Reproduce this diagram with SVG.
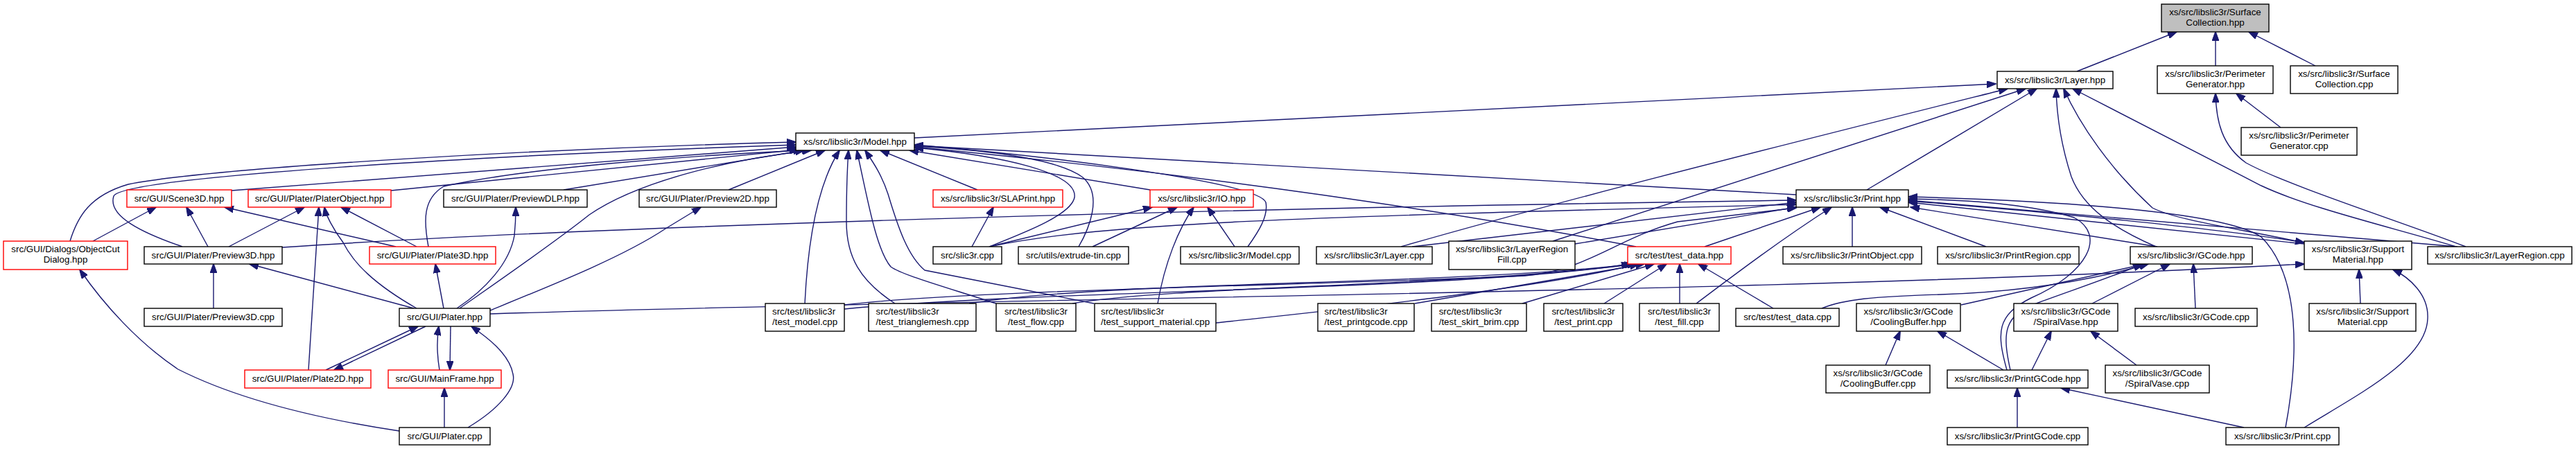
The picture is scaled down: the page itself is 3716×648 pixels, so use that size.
<svg xmlns="http://www.w3.org/2000/svg" width="3716" height="648" viewBox="0 0 3716 648">
<style>
.n rect{fill:#fff;stroke:#000;stroke-width:1.4}
.r rect{stroke:#f00}
.g rect{fill:#bfbfbf}
text{font-family:"Liberation Sans",Arial,sans-serif;font-size:13.33px;fill:#000;text-anchor:middle}
text.s{text-anchor:start}
#edges path{fill:none;stroke:#191970;stroke-width:1.4;marker-end:url(#ah)}
</style>
<defs>
<marker id="ah" markerUnits="userSpaceOnUse" markerWidth="14" markerHeight="10" refX="13" refY="5" orient="auto">
<path d="M0,0 L14,5 L0,10 z" fill="#191970" stroke="#191970" stroke-width="1"/>
</marker>
</defs>
<rect width="3716" height="648" fill="#fff"/>
<g id="edges">
<path d="M2996,103 L3140,46"/>
<path d="M3196,95 L3196,46"/>
<path d="M3340,95 L3244,46"/>
<path d="M3290,184 L3226,135"/>
<path d="M3557,356 C3470,322 3300,268 3240,235 C3205,210 3197,175 3196,135"/>
<path d="M3543,356 C3450,328 3330,300 3262,268 L2990,128"/>
<path d="M1319,199 L2879,121"/>
<path d="M2693,274 L2938,128"/>
<path d="M2021,356 C2250,290 2550,215 2896,128"/>
<path d="M2240,348 L2922,128"/>
<path d="M3110,356 C3050,330 3005,300 2988,255 C2975,215 2967,170 2966,128"/>
<path d="M3322,350 C3230,330 3140,318 3105,300 C3045,245 3000,180 2977,128"/>
<path d="M101,348 C112,312 130,282 185,266 C320,240 800,214 1148,205"/>
<path d="M263,356 C205,336 155,312 164,283 C178,255 700,224 1148,209"/>
<path d="M334,275 L1148,212"/>
<path d="M564,275 L1152,216"/>
<path d="M618,356 C611,318 610,287 640,269 C760,242 1000,224 1158,217"/>
<path d="M813,274 L1160,217"/>
<path d="M663,445 C720,405 800,350 850,310 C920,262 1050,230 1170,217"/>
<path d="M1051,274 L1190,217"/>
<path d="M1161,438 C1166,335 1182,262 1211,217"/>
<path d="M1291,438 C1240,405 1221,370 1221,320 C1221,280 1222,245 1224,217"/>
<path d="M1437,438 C1350,410 1300,396 1285,385 C1264,360 1252,290 1236,217"/>
<path d="M1578,438 L1334,390 C1310,370 1296,330 1281,280 C1271,250 1258,232 1248,217"/>
<path d="M1410,274 L1270,217"/>
<path d="M1659,274 L1312,217"/>
<path d="M1427,356 C1480,335 1545,310 1550,285 C1555,250 1450,225 1319,213"/>
<path d="M1556,356 C1570,332 1592,282 1562,256 C1522,226 1400,215 1319,211"/>
<path d="M2591,281 L1319,210"/>
<path d="M1800,356 C1815,335 1830,312 1826,292 C1815,262 1500,224 1319,209"/>
<path d="M2360,356 Q1900,268 1319,212"/>
<path d="M407,357 C800,330 1600,303 2591,289"/>
<path d="M1427,356 C1600,320 1900,313 2591,295"/>
<path d="M1218,440 C1400,418 1900,412 2200,398 C2290,390 2330,345 2420,320 L2591,300"/>
<path d="M2272,352 L2591,299"/>
<path d="M2037,356 L2591,292"/>
<path d="M2459,356 L2626,299"/>
<path d="M2447,438 C2500,398 2570,345 2642,299"/>
<path d="M2672,356 L2672,299"/>
<path d="M2865,356 L2712,299"/>
<path d="M3112,356 L2756,299"/>
<path d="M2895,534 C2880,480 2880,455 2930,430 C3010,395 3040,340 2992,314 C2920,292 2820,288 2753,287"/>
<path d="M3324,352 L2753,292"/>
<path d="M2753,290 C2950,305 3200,330 3324,350"/>
<path d="M3545,356 L2753,289"/>
<path d="M3297,617 C3315,520 3320,400 3262,342 C3200,300 2900,288 2753,284"/>
<path d="M3167,445 L3164,381"/>
<path d="M3018,438 L3130,381"/>
<path d="M2829,440 L3094,381"/>
<path d="M2628,445 C2660,432 2700,428 2800,425 C2950,420 3050,395 3099,381"/>
<path d="M2900,534 C2888,480 2890,455 2940,437 C3000,415 3060,395 3090,381"/>
<path d="M1218,446 C1500,418 2100,420 2352,381"/>
<path d="M1398,438 C1600,405 2100,412 2356,381"/>
<path d="M1547,438 C1700,412 2100,414 2360,381"/>
<path d="M1754,466 C1900,450 2200,420 2364,381"/>
<path d="M707,453 C1500,428 2500,425 3324,381"/>
<path d="M2041,438 L2372,381"/>
<path d="M2196,438 L2386,381"/>
<path d="M2314,438 L2404,381"/>
<path d="M2423,438 L2423,381"/>
<path d="M2558,445 L2450,381"/>
<path d="M470,534 L603,471"/>
<path d="M614,471 L482,534"/>
<path d="M634,534 C630,510 630,490 633,471"/>
<path d="M650,471 L649,534"/>
<path d="M641,617 L641,560"/>
<path d="M675,617 C720,590 745,560 740,540 C735,510 700,485 680,471"/>
<path d="M576,622 C470,606 350,580 257,533 C200,495 150,440 115,389"/>
<path d="M597,445 L360,381"/>
<path d="M308,445 L308,381"/>
<path d="M601,445 C540,410 510,380 495,350 C480,330 470,310 468,299"/>
<path d="M640,445 L628,381"/>
<path d="M659,445 C700,418 735,380 742,340 C744,320 744,310 744,299"/>
<path d="M707,448 C800,410 900,370 960,330 L1011,299"/>
<path d="M445,534 L460,299"/>
<path d="M601,356 L492,299"/>
<path d="M571,356 L324,299"/>
<path d="M300,356 L269,299"/>
<path d="M330,356 L439,299"/>
<path d="M134,348 L225,299"/>
<path d="M1402,356 L1433,299"/>
<path d="M1427,356 L1662,299"/>
<path d="M1576,356 L1698,299"/>
<path d="M1670,438 C1680,380 1700,330 1722,299"/>
<path d="M1781,356 L1742,299"/>
<path d="M2910,617 L2910,560"/>
<path d="M3237,617 L2973,560"/>
<path d="M2890,534 L2795,478"/>
<path d="M2931,534 L2959,478"/>
<path d="M2720,527 L2741,478"/>
<path d="M3082,527 L3016,478"/>
<path d="M3405,438 L3403,389"/>
<path d="M3324,617 C3400,570 3500,520 3502,460 C3504,425 3475,400 3452,389"/>
</g>
<g id="n_sc" class="n g"><rect x="3118" y="6" width="155" height="40"/><text x="3195.5" y="22">xs/src/libslic3r/Surface</text><text x="3195.5" y="37">Collection.hpp</text></g>
<g id="n_layer" class="n"><rect x="2881" y="103" width="167" height="25"/><text x="2964.5" y="120">xs/src/libslic3r/Layer.hpp</text></g>
<g id="n_pg" class="n"><rect x="3112" y="95" width="167" height="40"/><text x="3195.5" y="111">xs/src/libslic3r/Perimeter</text><text x="3195.5" y="126">Generator.hpp</text></g>
<g id="n_sccpp" class="n"><rect x="3304" y="95" width="155" height="40"/><text x="3381.5" y="111">xs/src/libslic3r/Surface</text><text x="3381.5" y="126">Collection.cpp</text></g>
<g id="n_model" class="n"><rect x="1148" y="192" width="171" height="25"/><text x="1233.5" y="209">xs/src/libslic3r/Model.hpp</text></g>
<g id="n_pgcpp" class="n"><rect x="3233" y="184" width="167" height="40"/><text x="3316.5" y="200">xs/src/libslic3r/Perimeter</text><text x="3316.5" y="215">Generator.cpp</text></g>
<g id="n_scene3d" class="n r"><rect x="183" y="274" width="151" height="25"/><text x="258.5" y="291">src/GUI/Scene3D.hpp</text></g>
<g id="n_platerobject" class="n r"><rect x="358" y="274" width="206" height="25"/><text x="461" y="291">src/GUI/Plater/PlaterObject.hpp</text></g>
<g id="n_previewdlp" class="n"><rect x="640" y="274" width="207" height="25"/><text x="743.5" y="291">src/GUI/Plater/PreviewDLP.hpp</text></g>
<g id="n_preview2d" class="n"><rect x="922" y="274" width="198" height="25"/><text x="1021" y="291">src/GUI/Plater/Preview2D.hpp</text></g>
<g id="n_slaprint" class="n r"><rect x="1346" y="274" width="187" height="25"/><text x="1439.5" y="291">xs/src/libslic3r/SLAPrint.hpp</text></g>
<g id="n_io" class="n r"><rect x="1659" y="274" width="149" height="25"/><text x="1733.5" y="291">xs/src/libslic3r/IO.hpp</text></g>
<g id="n_print" class="n"><rect x="2591" y="274" width="162" height="25"/><text x="2672" y="291">xs/src/libslic3r/Print.hpp</text></g>
<g id="n_objectcut" class="n r"><rect x="5" y="348" width="179" height="41"/><text x="94.5" y="364">src/GUI/Dialogs/ObjectCut</text><text x="94.5" y="379">Dialog.hpp</text></g>
<g id="n_preview3d" class="n"><rect x="208" y="356" width="199" height="25"/><text x="307.5" y="373">src/GUI/Plater/Preview3D.hpp</text></g>
<g id="n_plate3d" class="n r"><rect x="533" y="356" width="182" height="25"/><text x="624" y="373">src/GUI/Plater/Plate3D.hpp</text></g>
<g id="n_slic3r" class="n"><rect x="1346" y="356" width="99" height="25"/><text x="1395.5" y="373">src/slic3r.cpp</text></g>
<g id="n_extrude" class="n"><rect x="1469" y="356" width="159" height="25"/><text x="1548.5" y="373">src/utils/extrude-tin.cpp</text></g>
<g id="n_modelcpp" class="n"><rect x="1703" y="356" width="171" height="25"/><text x="1788.5" y="373">xs/src/libslic3r/Model.cpp</text></g>
<g id="n_layercpp" class="n"><rect x="1899" y="356" width="167" height="25"/><text x="1982.5" y="373">xs/src/libslic3r/Layer.cpp</text></g>
<g id="n_lrfill" class="n"><rect x="2090" y="348" width="182" height="41"/><text x="2181" y="364">xs/src/libslic3r/LayerRegion</text><text x="2181" y="379">Fill.cpp</text></g>
<g id="n_testdatah" class="n r"><rect x="2348" y="356" width="149" height="25"/><text x="2422.5" y="373">src/test/test_data.hpp</text></g>
<g id="n_printobject" class="n"><rect x="2572" y="356" width="200" height="25"/><text x="2672" y="373">xs/src/libslic3r/PrintObject.cpp</text></g>
<g id="n_printregion" class="n"><rect x="2795" y="356" width="204" height="25"/><text x="2897" y="373">xs/src/libslic3r/PrintRegion.cpp</text></g>
<g id="n_gcode" class="n"><rect x="3073" y="356" width="176" height="25"/><text x="3161" y="373">xs/src/libslic3r/GCode.hpp</text></g>
<g id="n_sm" class="n"><rect x="3324" y="348" width="155" height="41"/><text x="3401.5" y="364">xs/src/libslic3r/Support</text><text x="3401.5" y="379">Material.hpp</text></g>
<g id="n_lrcpp" class="n"><rect x="3502" y="356" width="208" height="25"/><text x="3606" y="373">xs/src/libslic3r/LayerRegion.cpp</text></g>
<g id="n_plater" class="n"><rect x="576" y="445" width="131" height="26"/><text x="641.5" y="462">src/GUI/Plater.hpp</text></g>
<g id="n_preview3dcpp" class="n"><rect x="208" y="445" width="199" height="26"/><text x="307.5" y="462">src/GUI/Plater/Preview3D.cpp</text></g>
<g id="n_test_model" class="n"><rect x="1104" y="438" width="114" height="40"/><text class="s" x="1114" y="454">src/test/libslic3r</text><text class="s" x="1114" y="469">/test_model.cpp</text></g>
<g id="n_test_tri" class="n"><rect x="1253" y="438" width="155" height="40"/><text class="s" x="1263.5" y="454">src/test/libslic3r</text><text class="s" x="1263.5" y="469">/test_trianglemesh.cpp</text></g>
<g id="n_test_flow" class="n"><rect x="1437" y="438" width="115" height="40"/><text x="1494.5" y="454">src/test/libslic3r</text><text x="1494.5" y="469">/test_flow.cpp</text></g>
<g id="n_test_sm" class="n"><rect x="1579" y="438" width="175" height="40"/><text class="s" x="1588" y="454">src/test/libslic3r</text><text class="s" x="1588" y="469">/test_support_material.cpp</text></g>
<g id="n_test_pg" class="n"><rect x="1901" y="438" width="139" height="40"/><text class="s" x="1910.5" y="454">src/test/libslic3r</text><text class="s" x="1910.5" y="469">/test_printgcode.cpp</text></g>
<g id="n_test_sb" class="n"><rect x="2065" y="438" width="137" height="40"/><text class="s" x="2075.7" y="454">src/test/libslic3r</text><text class="s" x="2075.7" y="469">/test_skirt_brim.cpp</text></g>
<g id="n_test_print" class="n"><rect x="2227" y="438" width="114" height="40"/><text x="2284" y="454">src/test/libslic3r</text><text x="2284" y="469">/test_print.cpp</text></g>
<g id="n_test_fill" class="n"><rect x="2365" y="438" width="115" height="40"/><text x="2422.5" y="454">src/test/libslic3r</text><text x="2422.5" y="469">/test_fill.cpp</text></g>
<g id="n_testdatacpp" class="n"><rect x="2504" y="445" width="149" height="26"/><text x="2578.5" y="462">src/test/test_data.cpp</text></g>
<g id="n_cbh" class="n"><rect x="2678" y="438" width="150" height="40"/><text x="2753" y="454">xs/src/libslic3r/GCode</text><text x="2753" y="469">/CoolingBuffer.hpp</text></g>
<g id="n_svh" class="n"><rect x="2905" y="438" width="150" height="40"/><text x="2980" y="454">xs/src/libslic3r/GCode</text><text x="2980" y="469">/SpiralVase.hpp</text></g>
<g id="n_gcodecpp" class="n"><rect x="3080" y="445" width="176" height="26"/><text x="3168" y="462">xs/src/libslic3r/GCode.cpp</text></g>
<g id="n_smcpp" class="n"><rect x="3331" y="438" width="154" height="40"/><text x="3408" y="454">xs/src/libslic3r/Support</text><text x="3408" y="469">Material.cpp</text></g>
<g id="n_plate2d" class="n r"><rect x="353" y="534" width="182" height="26"/><text x="444" y="551">src/GUI/Plater/Plate2D.hpp</text></g>
<g id="n_mainframe" class="n r"><rect x="560" y="534" width="163" height="26"/><text x="641.5" y="551">src/GUI/MainFrame.hpp</text></g>
<g id="n_cbcpp" class="n"><rect x="2634" y="527" width="150" height="40"/><text x="2709" y="543">xs/src/libslic3r/GCode</text><text x="2709" y="558">/CoolingBuffer.cpp</text></g>
<g id="n_pgh" class="n"><rect x="2809" y="534" width="203" height="26"/><text x="2910.5" y="551">xs/src/libslic3r/PrintGCode.hpp</text></g>
<g id="n_svcpp" class="n"><rect x="3037" y="527" width="150" height="40"/><text x="3112" y="543">xs/src/libslic3r/GCode</text><text x="3112" y="558">/SpiralVase.cpp</text></g>
<g id="n_platercpp" class="n"><rect x="576" y="617" width="131" height="25"/><text x="641.5" y="634">src/GUI/Plater.cpp</text></g>
<g id="n_pgcodecpp" class="n"><rect x="2809" y="617" width="203" height="25"/><text x="2910.5" y="634">xs/src/libslic3r/PrintGCode.cpp</text></g>
<g id="n_printcpp" class="n"><rect x="3211" y="617" width="163" height="25"/><text x="3292.5" y="634">xs/src/libslic3r/Print.cpp</text></g>
</svg>
